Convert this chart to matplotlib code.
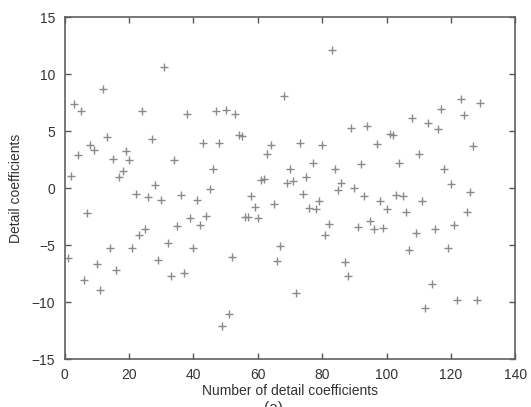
import matplotlib
matplotlib.use("Agg")
import matplotlib.pyplot as plt
import numpy as np

plt.rcParams['font.family'] = ['Liberation Sans', 'DejaVu Sans']

# Detail coefficient values, index 1..129
detail = [
    -6.1, 1.1, 7.4, 2.9, 6.8, -8.0, -2.2, 3.8, 3.4, -6.6,
    -8.9, 8.7, 4.5, -5.2, 2.6, -7.2, 1.0, 1.5, 3.3, 2.5,
    -5.2, -0.5, -4.1, 6.8, -3.6, -0.8, 4.3, 0.3, -6.3, -1.0,
    10.6, -4.8, -7.7, 2.5, -3.3, -0.6, -7.4, 6.5, -2.6, -5.2,
    -1.0, -3.2, 4.0, -2.4, -0.1, 1.7, 6.8, 4.0, -12.1, 6.9,
    -11.0, -6.0, 6.5, 4.7, 4.6, -2.5, -2.5, -0.7, -1.6, -2.6,
    0.7, 0.8, 3.0, 3.8, -1.4, -6.4, -5.1, 8.1, 0.45, 1.7,
    0.65, -9.2, 4.0, -0.5, 0.95, -1.75, 2.2, -1.8, -1.1, 3.8,
    -4.1, -3.1, 12.1, 1.7, -0.15, 0.5, -6.5, -7.7, 5.3, 0.0,
    -3.4, 2.1, -0.7, 5.5, -2.9, -3.6, 3.9, -1.1, -3.5, -1.8,
    4.8, 4.7, -0.6, 2.2, -0.7, -2.1, -5.4, 6.2, -3.9, 3.0,
    -1.1, -10.5, 5.7, -8.4, -3.6, 5.2, 7.0, 1.7, -5.2, 0.4,
    -3.2, -9.8, 7.8, 6.4, -2.1, -0.35, 3.7, -9.8, 7.5,
]
index = np.arange(1, len(detail) + 1)

x_ticks = [0, 20, 40, 60, 80, 100, 120, 140]
y_ticks = [-15, -10, -5, 0, 5, 10, 15]

W, H = 531, 407
fig = plt.figure(figsize=(W / 100, H / 100), dpi=100)
ax = fig.add_axes([64.7 / W, (H - 359.3) / H, 450.6 / W, 342.0 / H])

ax.plot(index, detail, linestyle='none', marker='+', markersize=6,
        markeredgewidth=1.0, color='#8a8a8a')

ax.set_xlim(0, 140)
ax.set_ylim(-15, 15)
ax.set_xticks(x_ticks)
ax.set_yticks(y_ticks)
ax.tick_params(direction='in', length=4, width=1.0, color='#555555',
               top=True, right=True, labelsize=10, labelcolor='#333333')
ax.tick_params(axis='x', pad=6)
ax.tick_params(axis='y', pad=7)
for s in ax.spines.values():
    s.set_color('#606060')
    s.set_linewidth(1.2)

ax.set_xlabel('Number of detail coefficients', fontsize=10, color='#333333', labelpad=2)
ax.set_ylabel('Detail coefficients', fontsize=10, color='#333333', labelpad=6)

fig.text(273 / W, (H - 401) / H, '(a)', ha='center', va='top', fontsize=11, color='#333333')

fig.savefig('out.png', dpi=100)
